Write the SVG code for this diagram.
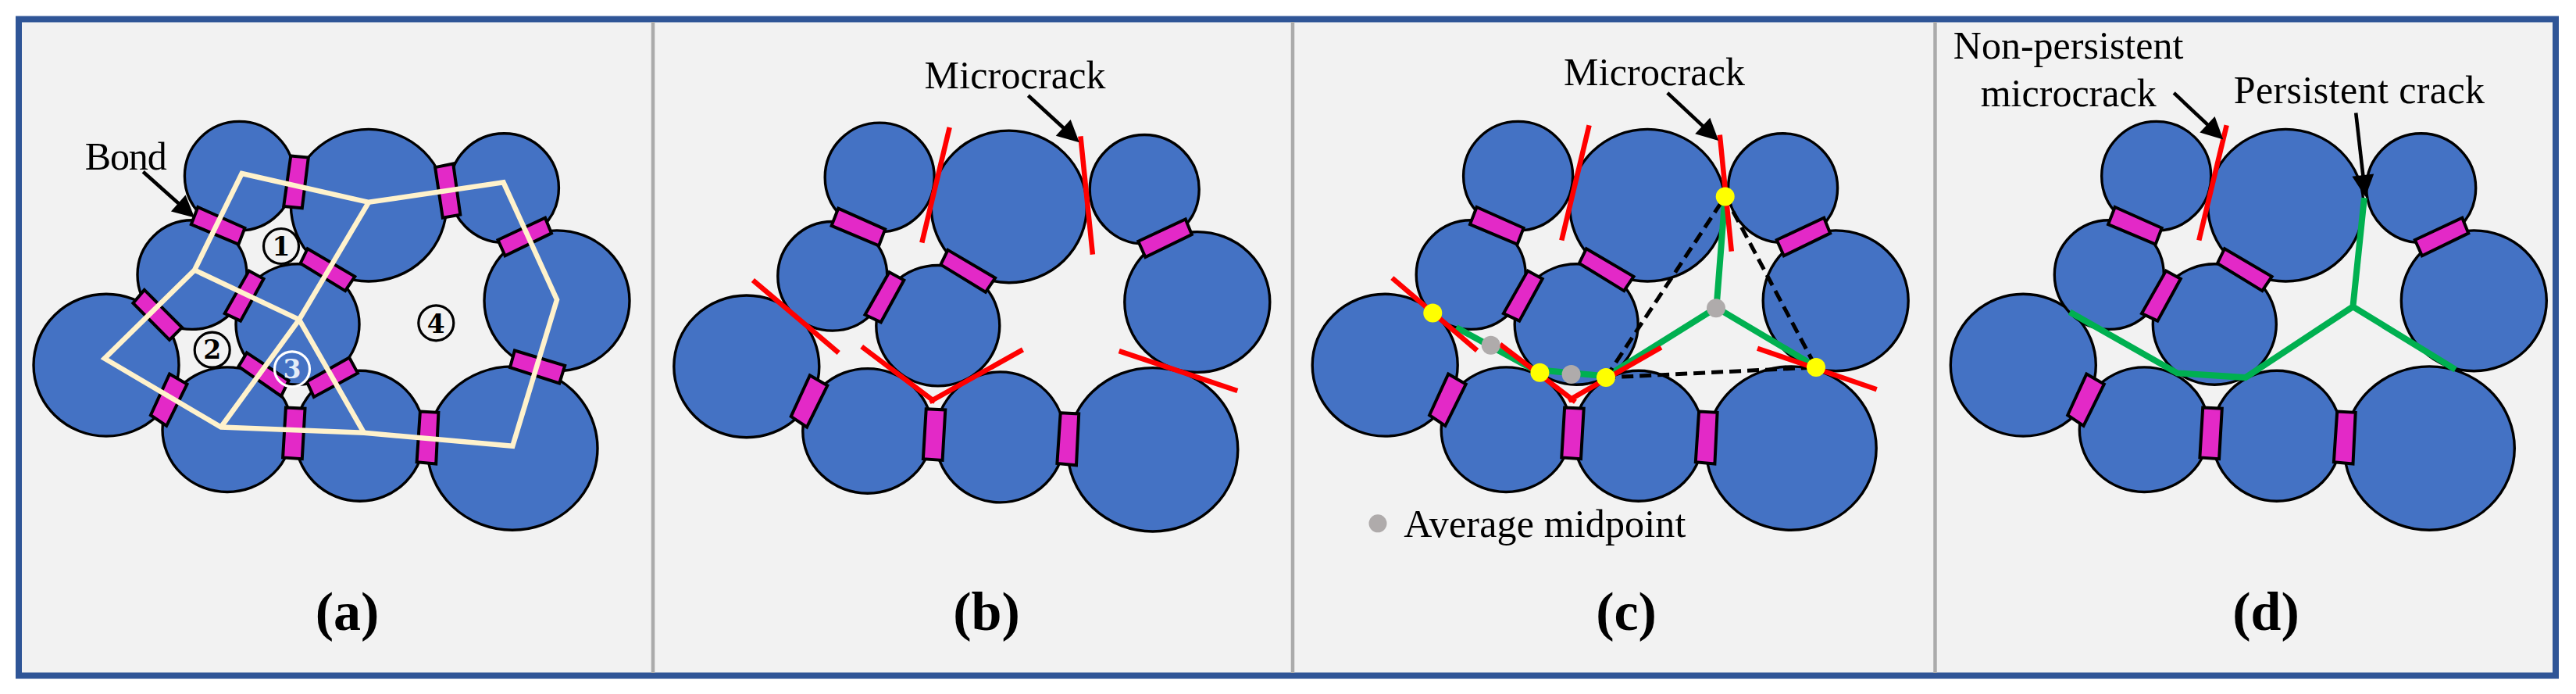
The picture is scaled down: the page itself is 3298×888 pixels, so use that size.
<svg xmlns="http://www.w3.org/2000/svg" xmlns:xlink="http://www.w3.org/1999/xlink" width="3298" height="888" viewBox="0 0 3298 888">
<style>
.grain{fill:#4472C4;stroke:#000;stroke-width:3.4}
.bond{fill:#E329C7;stroke:#000;stroke-width:4}
.frame{fill:#F2F2F2;stroke:#2F5597;stroke-width:8}
.div{stroke:#ABABAB;stroke-width:4.5}
.cream{fill:none;stroke:#FFF2CC;stroke-width:6.5}
.red{fill:none;stroke:#FF0000;stroke-width:6.5}
.green{fill:none;stroke:#00B050;stroke-width:8}
.dash{fill:none;stroke:#000;stroke-width:5;stroke-dasharray:15 8}
.arrow{fill:none;stroke:#000;stroke-width:4.6;marker-end:url(#head)}
.yellow{fill:#FFFF00}
.grey{fill:#AFABAB}
.t{font-family:"Liberation Serif","Times New Roman",serif;font-size:50px;fill:#000}
.cap{font-family:"Liberation Serif","Times New Roman",serif;font-size:70px;font-weight:bold;fill:#000;text-anchor:middle}
.num{font-family:"DejaVu Serif",serif;font-size:33px;font-weight:bold;text-anchor:middle;fill:#000}
.ring{fill:#F2F2F2;stroke:#000;stroke-width:3.2}
</style>
<defs>
<marker id="head" markerUnits="userSpaceOnUse" markerWidth="30" markerHeight="30" refX="8" refY="15" orient="auto" overflow="visible"><path d="M0,1 L28,15 L0,29 Z" fill="#000"/></marker>
<g id="grains">
<ellipse class="grain" cx="306.4" cy="225.2" rx="70" ry="69.8"/>
<ellipse class="grain" cx="472" cy="262.7" rx="99.6" ry="97.3"/>
<ellipse class="grain" cx="645.4" cy="240.6" rx="70" ry="69.8"/>
<ellipse class="grain" cx="713" cy="384.8" rx="93" ry="89.9"/>
<ellipse class="grain" cx="656" cy="573.6" rx="109" ry="104.7"/>
<ellipse class="grain" cx="460.6" cy="557.7" rx="83" ry="83.5"/>
<ellipse class="grain" cx="291" cy="549.7" rx="83" ry="79.8"/>
<ellipse class="grain" cx="136" cy="467.2" rx="93" ry="90.9"/>
<ellipse class="grain" cx="246" cy="351.6" rx="70" ry="69.8"/>
<ellipse class="grain" cx="381" cy="415" rx="79" ry="77.2"/>
</g>
<g id="bonds">
<polygon class="bond" points="637.5,307 698,278.7 706,298.4 646.6,327.3"/>
<polygon class="bond" points="537.9,526.6 561.4,527.8 558.2,593.5 533.6,591.2"/>
<polygon class="bond" points="365.9,521.6 390.5,522.7 386.8,587.2 362.1,585.5"/>
<polygon class="bond" points="217,478.6 239.5,491.6 213.2,544.8 192.9,531.2"/>
<polygon class="bond" points="318.7,346.6 337.5,356.8 308,410.6 287.7,401"/>
<polygon class="bond" points="253.4,265 313.4,291.7 305.4,312.6 244.8,287.1"/>
<polygon class="bond" points="393.7,318.2 454.3,353.9 442,372.1 384.6,336.9"/>
</g>
</defs>
<rect width="3298" height="888" fill="#fff"/>
<rect id="frame" class="frame" x="24" y="24.5" width="3248" height="840"/>
<g id="dividers">
<line class="div" x1="836" y1="28" x2="836" y2="861"/>
<line class="div" x1="1655" y1="28" x2="1655" y2="861"/>
<line class="div" x1="2477.5" y1="28" x2="2477.5" y2="861"/>
</g>

<g id="panel-a">
<use id="grains-a" xlink:href="#grains" href="#grains"/>
<use id="bonds-a" xlink:href="#bonds" href="#bonds"/>
<g id="bonds-a-extra">
<polygon class="bond" points="372.3,199.4 394.8,201.6 386.8,266.2 363.2,263.9"/>
<polygon class="bond" points="557.1,214.1 580.2,209.5 589.3,274.6 566.8,278.7"/>
<polygon class="bond" points="658.9,448.5 723.2,467.8 716.2,490.4 653,470.1"/>
<polygon class="bond" points="184.8,370.9 233,419 217,434.9 170.4,388"/>
<polygon class="bond" points="316,451.4 369.6,487 360,506.9 305.4,468.9"/>
<polygon class="bond" points="447.3,457.6 458,477.4 401.8,507.9 392.7,488.2"/>
</g>
<g id="network-a">
<path class="cream" d="M309.6,222 L472,258.8 L644.5,233.3 L713,383.4 L656.3,570.8 L466,553.8 L282.9,546.5 L133.9,458.7 L249.1,345.5 Z"/>
<path class="cream" d="M472,258.8 L383,408.9 L282.9,546.5 M249.1,345.5 L383,408.9 L466,553.8"/>
</g>
<g id="void-1"><circle class="ring" cx="360" cy="315" r="22.5"/><text class="num" x="360" y="326.7">1</text></g>
<g id="void-2"><circle class="ring" cx="271.7" cy="447.7" r="22.5"/><text class="num" x="271.7" y="459">2</text></g>
<g id="void-3"><circle cx="374" cy="472.3" r="22.5" fill="none" stroke="#fff" stroke-width="3.2"/><text class="num" x="374" y="484" style="fill:#E4ECF8">3</text></g>
<g id="void-4"><circle class="ring" cx="558.3" cy="413.3" r="22.5"/><text class="num" x="558.3" y="425.7">4</text></g>
<text class="t" x="108.7" y="216.7" textLength="105">Bond</text>
<line class="arrow" x1="183.2" y1="219.8" x2="234.2" y2="265.3"/>
<text class="cap" x="444.6" y="806">(a)</text>
</g>

<g id="panel-b">
<use id="grains-b" xlink:href="#grains" href="#grains" transform="translate(819.8,1.7)"/>
<use id="bonds-b" xlink:href="#bonds" href="#bonds" transform="translate(819.8,1.7)"/>
<path id="cracks-b" class="red" d="M1215.7,163.1 L1180.3,310.4 M1383.4,174.4 L1398.9,325.6 M963.9,358.5 L1073.7,451.4 M1103.2,443.5 L1197,514.2 M1309.5,447.4 L1190,514.2 M1432.7,449.1 L1584.3,500"/>
<text class="t" x="1183.5" y="113.1" textLength="232">Microcrack</text>
<line class="arrow" x1="1316.4" y1="122.3" x2="1367.1" y2="168.8"/>
<text class="cap" x="1263" y="806">(b)</text>
</g>

<g id="panel-c">
<use id="grains-c" xlink:href="#grains" href="#grains" transform="translate(1637.2,0)"/>
<use id="bonds-c" xlink:href="#bonds" href="#bonds" transform="translate(1637.2,0)"/>
<path id="persistent-c" class="green" d="M1864.3,419 L1963.4,472.8 L2057.1,481.4 L2197.5,393.6 L2208.7,249.2 M2197.5,393.6 L2326,470"/>
<path id="links-c" class="dash" d="M2056,483.1 L2208.7,251.5 L2325,470 L2056,483.1"/>
<path id="cracks-c" class="red" d="M2034.6,160.3 L1999.3,307.5 M2201.8,172.7 L2216.8,321.7 M1782.3,355.6 L1891.1,448.5 M1920.5,440.6 L2017,514.2 M2126.8,444.5 L2007.9,512.5 M2250,445.7 L2402.7,498.3"/>
<g id="midpoints-c">
<circle class="grey" cx="1908.7" cy="441.8" r="12"/>
<circle class="grey" cx="2011.6" cy="479.1" r="12"/>
<circle class="grey" cx="2197" cy="394.2" r="12"/>
</g>
<g id="tips-c">
<circle class="yellow" cx="1834.3" cy="400.4" r="12"/>
<circle class="yellow" cx="1971.4" cy="476.8" r="12"/>
<circle class="yellow" cx="2056" cy="483.1" r="12"/>
<circle class="yellow" cx="2208.7" cy="251.5" r="12"/>
<circle class="yellow" cx="2325" cy="470" r="12"/>
</g>
<text class="t" x="2002" y="109.3" textLength="232">Microcrack</text>
<line class="arrow" x1="2134.8" y1="118.9" x2="2185.6" y2="166.4"/>
<g id="legend-c">
<circle class="grey" cx="1764" cy="669.8" r="11.5"/>
<text class="t" x="1797.3" y="687.1" textLength="361">Average midpoint</text>
</g>
<text class="cap" x="2082" y="806">(c)</text>
</g>

<g id="panel-d">
<use id="grains-d" xlink:href="#grains" href="#grains" transform="translate(2454.3,0)"/>
<use id="bonds-d" xlink:href="#bonds" href="#bonds" transform="translate(2454.3,0)"/>
<path id="persistent-d" class="green" d="M2649.8,399.3 L2787.5,477.4 L2874.8,483.1 L3012.4,392.4 L3026.9,253.2 M3012.4,392.4 L3143.7,472.8"/>
<path id="crack-d" class="red" d="M2850.7,160.3 L2815.3,307.5"/>
<text class="t" x="2500.8" y="75" textLength="294.6">Non-persistent</text>
<text class="t" x="2535.7" y="135.8" textLength="225">microcrack</text>
<text class="t" x="2859.7" y="132.1" textLength="321.3">Persistent crack</text>
<line class="arrow" x1="2783.2" y1="118.9" x2="2831.8" y2="164.7"/>
<line class="arrow" x1="3016.2" y1="144.4" x2="3026.2" y2="232.1"/>
<text class="cap" x="2901" y="806">(d)</text>
</g>
</svg>
